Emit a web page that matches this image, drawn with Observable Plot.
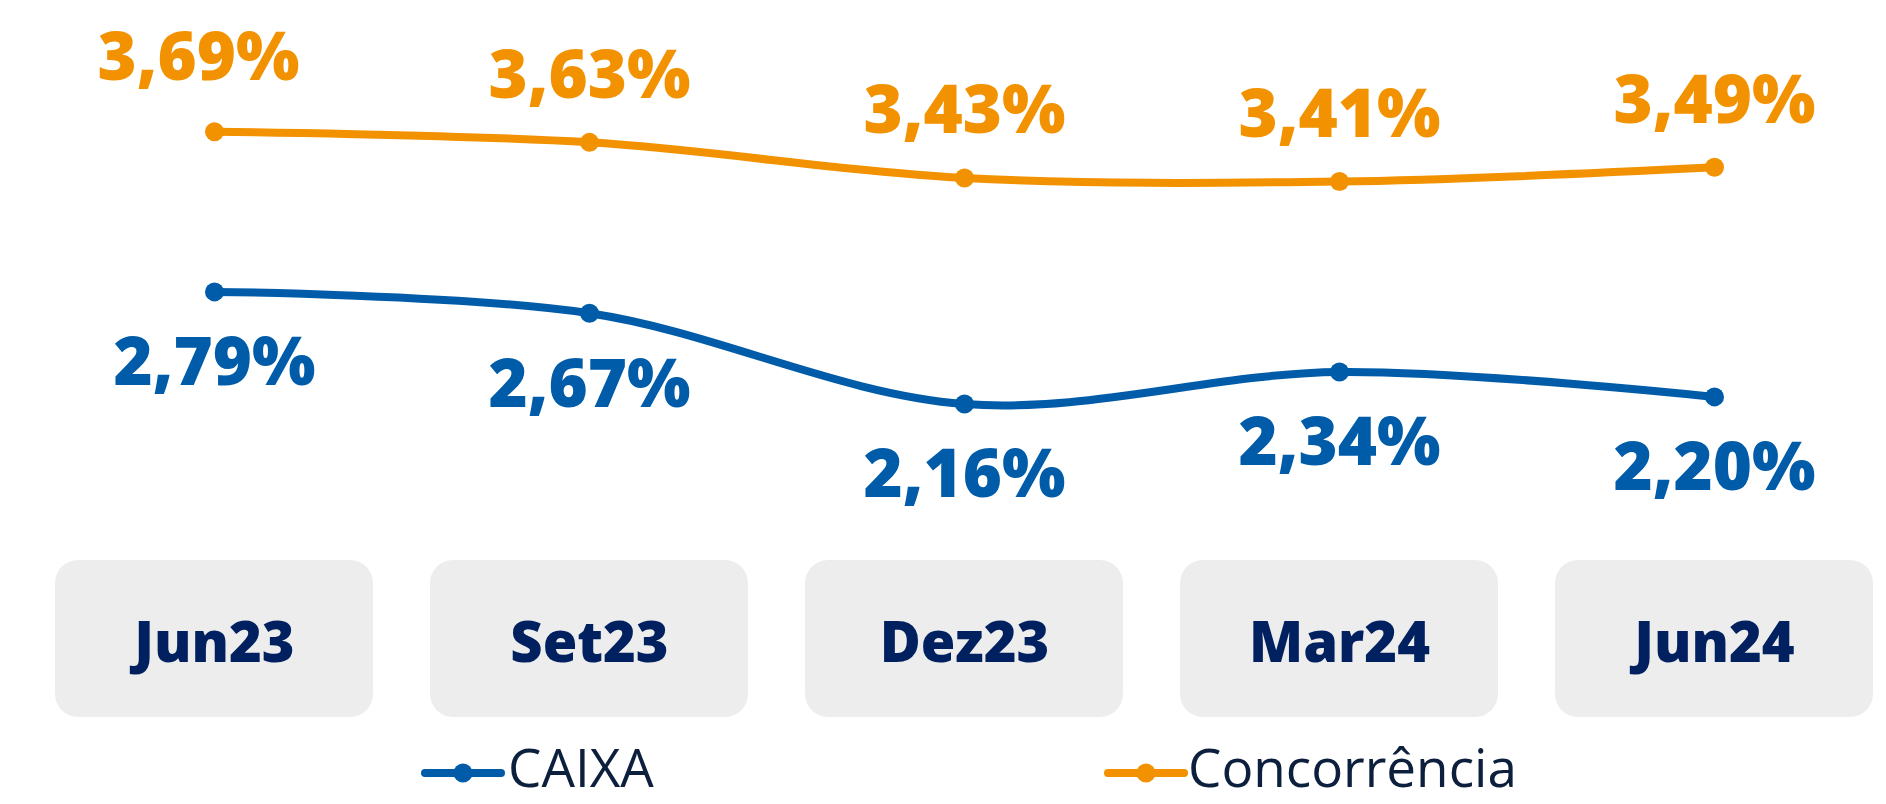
<!DOCTYPE html>
<html>
<head>
<meta charset="utf-8">
<script src="https://cdn.jsdelivr.net/npm/d3@7"></script>
<script src="https://cdn.jsdelivr.net/npm/@observablehq/plot@0.6"></script>
<style>
  html, body { margin: 0; padding: 0; background: #ffffff; overflow: hidden; }
  #chart { width: 1886px; }
  svg { display: block; }
</style>
</head>
<body>
<div id="chart"></div>
<script>
// ---- data ----
const periods = ["Jun23", "Set23", "Dez23", "Mar24", "Jun24"];
const caixa = [2.79, 2.67, 2.16, 2.34, 2.20];
const concorrencia = [3.69, 3.63, 3.43, 3.41, 3.49];
const seriesNames = ["CAIXA", "Concorrência"];
const seriesColors = ["#005CA9", "#F39200"];

// ---- table built from arrays ----
const seriesValues = [caixa, concorrencia];
const rows = [];
seriesNames.forEach((name, s) => {
  periods.forEach((p, i) => rows.push({period: p, series: name, value: seriesValues[s][i]}));
});
const fmt = v => d3.format(".2f")(v).replace(".", ",") + "%";

const xScale = {type: "band", domain: periods, paddingInner: 0.153, paddingOuter: 0, axis: null};
const labelFont = {fontFamily: "'Open Sans', sans-serif", fontWeight: 800, fontSize: 67};

const main = Plot.plot({
  width: 1886,
  height: 540,
  marginLeft: 54,
  marginRight: 12,
  marginTop: 76,
  marginBottom: 108,
  x: xScale,
  y: {domain: [2, 4], axis: null},
  color: {domain: seriesNames, range: seriesColors},
  style: {background: "#ffffff"},
  marks: [
    Plot.line(rows, {x: "period", y: "value", z: "series", stroke: "series", strokeWidth: 8, curve: "catmull-rom"}),
    Plot.dot(rows, {x: "period", y: "value", fill: "series", r: 9.5}),
    // CAIXA labels below the points
    Plot.text(rows, {filter: d => d.series === seriesNames[0], x: "period", y: "value", text: d => fmt(d.value), fill: "series", dy: 72, ...labelFont}),
    // Concorrência labels above the points
    Plot.text(rows, {filter: d => d.series === seriesNames[1] && d.period !== periods[0], x: "period", y: "value", text: d => fmt(d.value), fill: "series", dy: -66, ...labelFont}),
    Plot.text(rows, {filter: d => d.series === seriesNames[1] && d.period === periods[0], x: "period", y: "value", text: d => fmt(d.value), fill: "series", dx: -16, dy: -73, ...labelFont})
  ]
});

const ticks = Plot.plot({
  width: 1886,
  height: 200,
  marginLeft: 54,
  marginRight: 12,
  marginTop: 20,
  marginBottom: 23,
  x: xScale,
  style: {background: "#ffffff"},
  marks: [
    Plot.cell(periods, {x: d => d, fill: "#EDEDED", rx: 23, inset: 0}),
    Plot.text(periods, {x: d => d, text: d => d, fill: "#00205F", dy: 5, fontFamily: "'Open Sans', sans-serif", fontWeight: 800, fontSize: 56})
  ]
});

const root = d3.select("#chart");
root.node().appendChild(main);
root.node().appendChild(ticks);

// ---- legend ----
const legend = root.append("div")
  .style("position", "relative")
  .style("width", "1886px")
  .style("height", "64px");
const legendLeft = [421, 1104];
const legendTextLeft = [508, 1188];
seriesNames.forEach((name, i) => {
  const sw = legend.append("svg")
    .attr("width", 86).attr("height", 22)
    .style("position", "absolute")
    .style("left", legendLeft[i] + "px")
    .style("top", "22px");
  sw.append("line")
    .attr("x1", 4).attr("x2", 80).attr("y1", 11).attr("y2", 11)
    .attr("stroke", seriesColors[i]).attr("stroke-width", 8).attr("stroke-linecap", "round");
  sw.append("circle").attr("cx", 42).attr("cy", 11).attr("r", 9.5).attr("fill", seriesColors[i]);
  legend.append("span")
    .text(name)
    .style("position", "absolute")
    .style("left", legendTextLeft[i] + "px")
    .style("top", "0px")
    .style("line-height", "53px")
    .style("font-family", "'Open Sans', sans-serif")
    .style("font-size", "53px")
    .style("font-weight", 400)
    .style("color", "#0C1F3D")
    .style("white-space", "nowrap");
});
</script>
</body>
</html>
